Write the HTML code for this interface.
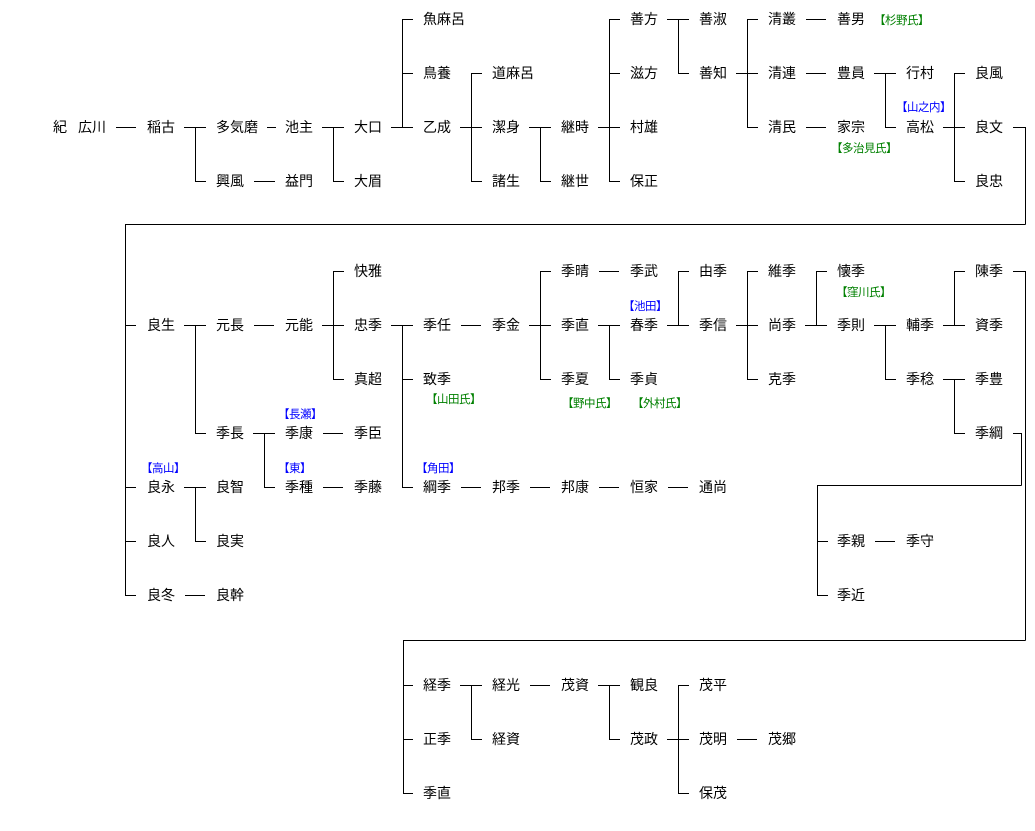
<!DOCTYPE html>
<html><head><meta charset="utf-8">
<style>
html,body{margin:0;padding:0;background:#fff;}
#c{position:relative;width:1035px;height:831px;overflow:hidden;font-family:"Liberation Sans","Noto Sans CJK JP",sans-serif;}
.n{position:absolute;font-size:14px;line-height:16px;white-space:nowrap;color:#000;letter-spacing:0}
.g{position:absolute;font-size:11.5px;line-height:14px;white-space:nowrap;color:#008000;letter-spacing:-0.5px}
.b{position:absolute;font-size:11.5px;line-height:14px;white-space:nowrap;color:#0000ff;letter-spacing:-0.5px}
svg{position:absolute;left:0;top:0}
</style></head><body><div id="c">
<svg width="1035" height="831" shape-rendering="crispEdges" stroke="#000" stroke-width="1" fill="none">
<path d="
M116 127.5H136
M184 127.5H206 M195 181.5H206 M195.5 127V181
M267 127.5H276
M254 181.5H275
M322 127.5H344 M333 181.5H344 M333.5 127V181
M391 127.5H413 M402 19.5H413 M402 73.5H413 M402.5 19V127
M460 127.5H482 M471 73.5H482 M471 181.5H482 M471.5 73V181
M529 127.5H551 M540 181.5H551 M540.5 127V181
M598 127.5H620 M609 19.5H620 M609 73.5H620 M609 181.5H620 M609.5 19V181
M667 19.5H689 M678 73.5H689 M678.5 19V73
M736 73.5H758 M747 19.5H758 M747 127.5H758 M747.5 19V127
M806 19.5H826 M806 73.5H826 M806 127.5H826
M874 73.5H896 M885 127.5H896 M885.5 73V127
M943 127.5H965 M954 73.5H965 M954 181.5H965 M954.5 73V181
M1013 127.5H1025.5 M1025.5 127V224.5 M125.5 224.5H1025.5 M125.5 224V595.5
M125 325.5H136 M125 487.5H136 M125 541.5H136 M125 595.5H136
M184 325.5H206 M195 433.5H206 M195.5 325V433
M254 325.5H274
M322 325.5H344 M333 271.5H344 M333 379.5H344 M333.5 271V379
M391 325.5H413 M402 379.5H413 M402 487.5H413 M402.5 325V487
M461 325.5H481
M529 325.5H551 M540 271.5H551 M540 379.5H551 M540.5 271V379
M599 271.5H619
M598 325.5H620 M609 379.5H620 M609.5 325V379
M667 325.5H689 M678 271.5H689 M678.5 271V325
M736 325.5H758 M747 271.5H758 M747 379.5H758 M747.5 271V379
M805 325.5H827 M816 271.5H827 M816.5 271V325
M874 325.5H896 M885 379.5H896 M885.5 325V379
M943 325.5H965 M954 271.5H965 M954.5 271V325
M943 379.5H965 M954 433.5H965 M954.5 379V433
M1013 271.5H1025.5 M1025.5 271V640.5 M403.5 640.5H1025.5 M403.5 640V793.5
M403 685.5H413 M403 739.5H413 M403 793.5H413
M1013 433.5H1021.5 M1021.5 433V485.5 M817.5 485.5H1021.5 M817.5 485V595.5
M817 541.5H828 M817 595.5H828
M875 541.5H895
M253 433.5H275 M264 487.5H275 M264.5 433V487
M323 433.5H343 M323 487.5H343
M184 487.5H206 M195 541.5H206 M195.5 487V541
M185 595.5H205
M461 487.5H481 M530 487.5H550 M599 487.5H619 M668 487.5H688
M460 685.5H482 M471 739.5H482 M471.5 685V739
M530 685.5H550
M598 685.5H620 M609 739.5H620 M609.5 685V739
M667 739.5H689 M678 685.5H689 M678 793.5H689 M678.5 685V793
M737 739.5H757
"/>
</svg>
<div class="n" style="left:53px;top:119px">紀</div>
<div class="n" style="left:78px;top:119px">広川</div>
<div class="n" style="left:147px;top:119px">稲古</div>
<div class="n" style="left:216px;top:119px">多気磨</div>
<div class="n" style="left:216px;top:173px">興風</div>
<div class="n" style="left:285px;top:119px">池主</div>
<div class="n" style="left:285px;top:173px">益門</div>
<div class="n" style="left:354px;top:119px">大口</div>
<div class="n" style="left:354px;top:173px">大眉</div>
<div class="n" style="left:423px;top:11px">魚麻呂</div>
<div class="n" style="left:423px;top:65px">鳥養</div>
<div class="n" style="left:423px;top:119px">乙成</div>
<div class="n" style="left:492px;top:65px">道麻呂</div>
<div class="n" style="left:492px;top:119px">潔身</div>
<div class="n" style="left:492px;top:173px">諸生</div>
<div class="n" style="left:561px;top:119px">継時</div>
<div class="n" style="left:561px;top:173px">継世</div>
<div class="n" style="left:630px;top:11px">善方</div>
<div class="n" style="left:630px;top:65px">滋方</div>
<div class="n" style="left:630px;top:119px">村雄</div>
<div class="n" style="left:630px;top:173px">保正</div>
<div class="n" style="left:699px;top:11px">善淑</div>
<div class="n" style="left:699px;top:65px">善知</div>
<div class="n" style="left:768px;top:11px">清叢</div>
<div class="n" style="left:768px;top:65px">清連</div>
<div class="n" style="left:768px;top:119px">清民</div>
<div class="n" style="left:837px;top:11px">善男</div>
<div class="g" style="left:874px;top:14px">【杉野氏】</div>
<div class="n" style="left:837px;top:65px">豊員</div>
<div class="n" style="left:837px;top:119px">家宗</div>
<div class="g" style="left:831px;top:142px">【多治見氏】</div>
<div class="n" style="left:906px;top:65px">行村</div>
<div class="b" style="left:896px;top:101px">【山之内】</div>
<div class="n" style="left:906px;top:119px">高松</div>
<div class="n" style="left:975px;top:65px">良風</div>
<div class="n" style="left:975px;top:119px">良文</div>
<div class="n" style="left:975px;top:173px">良忠</div>

<div class="n" style="left:147px;top:317px">良生</div>
<div class="b" style="left:141px;top:462px">【高山】</div>
<div class="n" style="left:147px;top:479px">良永</div>
<div class="n" style="left:147px;top:533px">良人</div>
<div class="n" style="left:147px;top:587px">良冬</div>
<div class="n" style="left:216px;top:317px">元長</div>
<div class="n" style="left:216px;top:425px">季長</div>
<div class="n" style="left:216px;top:479px">良智</div>
<div class="n" style="left:216px;top:533px">良実</div>
<div class="n" style="left:216px;top:587px">良幹</div>
<div class="n" style="left:285px;top:317px">元能</div>
<div class="b" style="left:278px;top:408px">【長瀬】</div>
<div class="n" style="left:285px;top:425px">季康</div>
<div class="b" style="left:278px;top:462px">【東】</div>
<div class="n" style="left:285px;top:479px">季種</div>
<div class="n" style="left:354px;top:263px">快雅</div>
<div class="n" style="left:354px;top:317px">忠季</div>
<div class="n" style="left:354px;top:371px">真超</div>
<div class="n" style="left:354px;top:425px">季臣</div>
<div class="n" style="left:354px;top:479px">季藤</div>
<div class="n" style="left:423px;top:317px">季任</div>
<div class="n" style="left:423px;top:371px">致季</div>
<div class="g" style="left:426px;top:393px">【山田氏】</div>
<div class="b" style="left:416px;top:462px">【角田】</div>
<div class="n" style="left:423px;top:479px">綱季</div>
<div class="n" style="left:492px;top:317px">季金</div>
<div class="n" style="left:492px;top:479px">邦季</div>
<div class="n" style="left:561px;top:263px">季晴</div>
<div class="n" style="left:561px;top:317px">季直</div>
<div class="n" style="left:561px;top:371px">季夏</div>
<div class="g" style="left:562px;top:397px">【野中氏】</div>
<div class="n" style="left:561px;top:479px">邦康</div>
<div class="n" style="left:630px;top:263px">季武</div>
<div class="b" style="left:623px;top:300px">【池田】</div>
<div class="n" style="left:630px;top:317px">春季</div>
<div class="n" style="left:630px;top:371px">季貞</div>
<div class="g" style="left:632px;top:397px">【外村氏】</div>
<div class="n" style="left:630px;top:479px">恒家</div>
<div class="n" style="left:699px;top:263px">由季</div>
<div class="n" style="left:699px;top:317px">季信</div>
<div class="n" style="left:699px;top:479px">通尚</div>
<div class="n" style="left:768px;top:263px">維季</div>
<div class="n" style="left:768px;top:317px">尚季</div>
<div class="n" style="left:768px;top:371px">克季</div>
<div class="n" style="left:837px;top:263px">懐季</div>
<div class="g" style="left:836px;top:286px">【窪川氏】</div>
<div class="n" style="left:837px;top:317px">季則</div>
<div class="n" style="left:837px;top:533px">季親</div>
<div class="n" style="left:837px;top:587px">季近</div>
<div class="n" style="left:906px;top:317px">輔季</div>
<div class="n" style="left:906px;top:371px">季稔</div>
<div class="n" style="left:906px;top:533px">季守</div>
<div class="n" style="left:975px;top:263px">陳季</div>
<div class="n" style="left:975px;top:317px">資季</div>
<div class="n" style="left:975px;top:371px">季豊</div>
<div class="n" style="left:975px;top:425px">季綱</div>

<div class="n" style="left:423px;top:677px">経季</div>
<div class="n" style="left:423px;top:731px">正季</div>
<div class="n" style="left:423px;top:785px">季直</div>
<div class="n" style="left:492px;top:677px">経光</div>
<div class="n" style="left:492px;top:731px">経資</div>
<div class="n" style="left:561px;top:677px">茂資</div>
<div class="n" style="left:630px;top:677px">観良</div>
<div class="n" style="left:630px;top:731px">茂政</div>
<div class="n" style="left:699px;top:677px">茂平</div>
<div class="n" style="left:699px;top:731px">茂明</div>
<div class="n" style="left:699px;top:785px">保茂</div>
<div class="n" style="left:768px;top:731px">茂郷</div>
</div></body></html>
